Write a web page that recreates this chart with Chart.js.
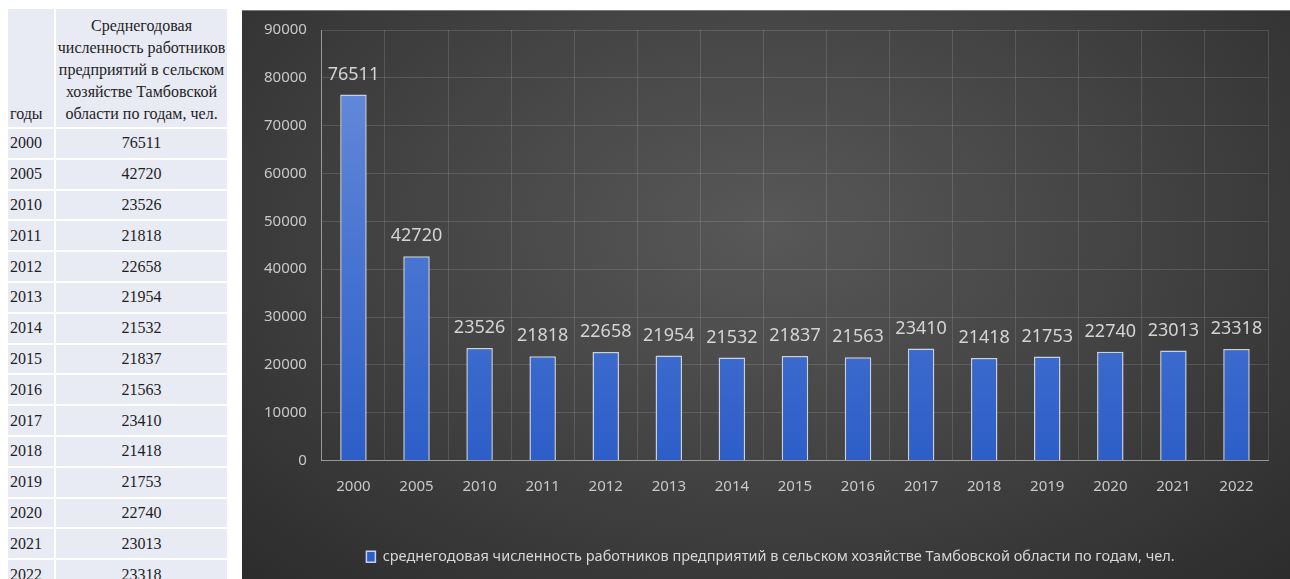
<!DOCTYPE html>
<html>
<head>
<meta charset="utf-8">
<script src="https://cdn.jsdelivr.net/npm/chart.js@4"></script>
<style>
  body { margin: 0; background: #fff; width: 1290px; height: 579px; overflow: hidden; position: relative; }
  #tbl { position: absolute; left: 6px; top: 7px; border-collapse: separate; border-spacing: 2px;
         font-family: "Liberation Serif", serif; font-size: 16px; color: #1e1e1e; }
  #tbl td { background: #e8eaf4; padding: 0; }
  #tbl td.y { width: 44px; padding-left: 2px; }
  #tbl td.v { width: 171px; text-align: center; }
  #tbl tr.row td { height: 28.8px; }
  #tbl tr.head td { height: 116px; line-height: 22px; vertical-align: bottom; padding-bottom: 2px; }
  #panel { position: absolute; left: 242px; top: 10px; width: 1048px; height: 569px; overflow: hidden;
           border-top: 1px solid #7a7a7a;
           background: radial-gradient(ellipse 75% 90% at 50% 38%, #585858 0%, #444 45%, #2a2a2a 100%); }
  #chart { position: absolute; left: 0; top: -5px; }
</style>
</head>
<body>
<table id="tbl"></table>
<div id="panel"><canvas id="chart" width="1048" height="573"></canvas></div>
<script>
const years = ["2000", "2005", "2010", "2011", "2012", "2013", "2014", "2015", "2016", "2017", "2018", "2019", "2020", "2021", "2022"];
const workers = [76511, 42720, 23526, 21818, 22658, 21954, 21532, 21837, 21563, 23410, 21418, 21753, 22740, 23013, 23318];
const tableHeader = ["годы", "Среднегодовая<br>численность работников<br>предприятий в сельском<br>хозяйстве Тамбовской<br>области по годам, чел."];
const seriesLabel = "среднегодовая численность работников предприятий в сельском хозяйстве Тамбовской области по годам, чел.";

// table on the left
const tbl = document.getElementById("tbl");
let html = '<tr class="head"><td class="y">' + tableHeader[0] + '</td><td class="v">' + tableHeader[1] + '</td></tr>';
years.forEach((y, i) => {
  html += '<tr class="row"><td class="y">' + y + '</td><td class="v">' + workers[i] + '</td></tr>';
});
tbl.innerHTML = html;

const font = "'Noto Sans', sans-serif";

// values above the bars
const valueLabels = {
  id: "valueLabels",
  afterDatasetsDraw(chart) {
    const ctx = chart.ctx;
    const meta = chart.getDatasetMeta(0);
    ctx.save();
    ctx.font = "18px " + font;
    ctx.fillStyle = "#d4d4d4";
    ctx.textAlign = "center";
    ctx.textBaseline = "middle";
    meta.data.forEach((bar, i) => {
      ctx.fillText(String(chart.data.datasets[0].data[i]), bar.x, bar.y - 20);
    });
    ctx.restore();
  }
};

// legend sits a bit right of the canvas centre in the original
const shiftLegend = {
  id: "shiftLegend",
  afterLayout(chart) {
    chart.legend.left += 12;
    chart.legend.right += 12;
  }
};

function barFill(context) {
  const area = context.chart.chartArea;
  if (!area) return "#4472c4";
  const g = context.chart.ctx.createLinearGradient(0, area.top, 0, area.bottom);
  g.addColorStop(0, "#6a8fdc");
  g.addColorStop(0.5, "#4a76d2");
  g.addColorStop(1, "#2d5ec8");
  return g;
}

new Chart(document.getElementById("chart"), {
  type: "bar",
  data: {
    labels: years,
    datasets: [{
      label: seriesLabel,
      data: workers,
      backgroundColor: barFill,
      borderColor: "rgba(215,225,245,0.9)",
      borderWidth: 1.5,
      categoryPercentage: 1,
      barPercentage: 0.42
    }]
  },
  options: {
    responsive: false,
    animation: false,
    layout: { padding: { left: 7, right: 22, top: 1, bottom: 5 } },
    plugins: {
      tooltip: { enabled: false },
      legend: {
        position: "bottom",
        labels: {
          color: "#d6d6d6",
          font: { family: font, size: 14.5 },
          boxWidth: 9,
          boxHeight: 11,
          padding: 37
        }
      }
    },
    scales: {
      x: {
        grid: { color: "rgba(255,255,255,0.13)", drawTicks: false },
        border: { color: "rgba(200,200,200,0.6)" },
        ticks: { color: "#c8c8c8", font: { family: font, size: 15 }, padding: 17 }
      },
      y: {
        min: 0,
        max: 90000,
        grid: { color: "rgba(255,255,255,0.13)", drawTicks: false },
        border: { color: "rgba(200,200,200,0.6)" },
        ticks: {
          stepSize: 10000, color: "#c8c8c8", font: { family: font, size: 15 }, padding: 15,
          callback: (v) => String(v)
        }
      }
    }
  },
  plugins: [valueLabels, shiftLegend]
});
</script>
</body>
</html>
